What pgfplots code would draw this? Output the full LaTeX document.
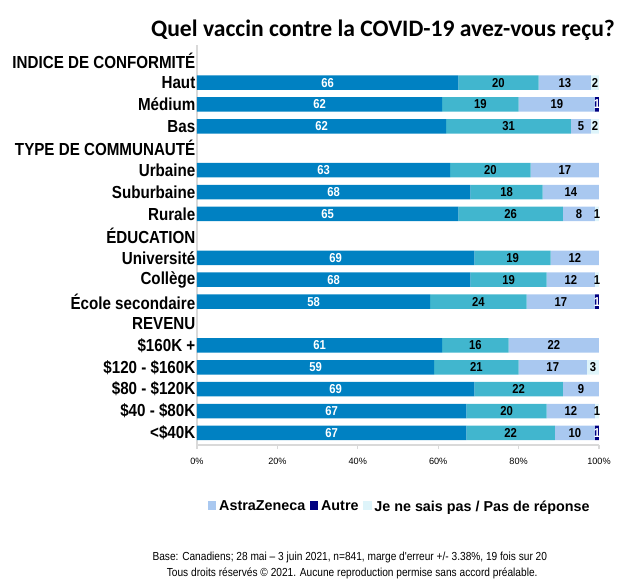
\documentclass[border=0pt]{standalone}
\usepackage{pgfplots}
\usepackage{pgfplotstable}
\pgfplotsset{compat=1.18}
\usepackage{fontspec}
\setmainfont{Liberation Sans}
\newfontfamily\narrow[FakeStretch=0.87]{Liberation Sans}
\newfontfamily\calib{Carlito}

\definecolor{pfz}{RGB}{0,129,194}
\definecolor{mod}{RGB}{65,182,206}
\definecolor{astra}{RGB}{169,200,240}
\definecolor{autre}{RGB}{0,0,128}
\definecolor{nsp}{RGB}{222,244,250}
\definecolor{axgray}{RGB}{217,217,217}

% widths (pf, mo, az, au, ns) and printed labels (..l)
\pgfplotstableread{
y pf pfl mo mol az azl au aul ns nsl
0 0 0 0 0 0 0 0 0 0 0
1 65 66 20 20 13 13 0 0 2 2
2 61 62 19 19 19 19 1 1 0 0
3 62 62 31 31 5 5 0 0 2 2
4 0 0 0 0 0 0 0 0 0 0
5 63 63 20 20 17 17 0 0 0 0
6 68 68 18 18 14 14 0 0 0 0
7 65 65 26 26 8 8 0 0 1 1
8 0 0 0 0 0 0 0 0 0 0
9 69 69 19 19 12 12 0 0 0 0
10 68 68 19 19 12 12 0 0 1 1
11 58 58 24 24 17 17 1 1 0 0
12 0 0 0 0 0 0 0 0 0 0
13 61 61 16.5 16 22.5 22 0 0 0 0
14 59 59 21 21 17 17 0 0 3 3
15 69 69 22 22 9 9 0 0 0 0
16 67 67 20 20 12 12 0 0 1 1
17 67 67 22 22 10 10 1 1 0 0
}\datatable

\begin{document}
\begin{tikzpicture}
\path[use as bounding box] (-4.925,-3.45) rectangle (10.9,11.125);
\begin{axis}[
  at={(0,0)}, anchor=south west,
  xbar stacked,
  x=0.1005cm, y=0.5475cm,
  y dir=reverse,
  xmin=0, xmax=100,
  ymin=-0.7, ymax=17.55,
  bar width=0.3625cm,
  axis x line*=bottom, axis y line*=left,
  axis line style={axgray, line width=1pt},
  xtick={0,20,...,100},
  xticklabel={\pgfmathprintnumber{\tick}\%},
  xtick style={axgray, line width=0.8pt},
  tick align=outside,
  major tick length=3pt,
  xticklabel style={font=\fontsize{6.5}{8}\selectfont, yshift=-2.5pt},
  /pgf/number format/assume math mode=true,
  ytick={0,...,17},
  yticklabels={INDICE DE CONFORMITÉ, Haut, Médium, Bas, TYPE DE COMMUNAUTÉ, Urbaine, Suburbaine, Rurale, ÉDUCATION, Université, Collège, École secondaire, REVENU, \$160K +, \$120 - \$160K, \$80 - \$120K, \$40 - \$80K, <\$40K},
  yticklabel style={font=\narrow\bfseries\fontsize{12.4}{14}\selectfont, inner xsep=1pt, xshift=3pt},
  ytick style={draw=none},
  nodes near coords={\ifdim\lab pt>0pt\pgfmathprintnumber{\lab}\fi},
  nodes near coords style={anchor=center, font=\narrow\bfseries\fontsize{9.2}{10}\selectfont},
  legend columns=-1,
  legend style={draw=none, fill=none, at={(0.505,-0.155)}, anchor=center,
    font=\bfseries\fontsize{10.2}{12}\selectfont,
    /tikz/every even column/.append style={column sep=1pt}},
  legend image code/.code={\fill[#1] (0cm,-0.07cm) rectangle (0.22cm,0.15cm);},
]
\addplot[fill=pfz, draw=none, nodes near coords style={white},
  visualization depends on={\thisrow{pfl} \as \lab}]
  table[x=pf, y=y] {\datatable};
\addplot[fill=mod, draw=none, nodes near coords style={black},
  visualization depends on={\thisrow{mol} \as \lab}]
  table[x=mo, y=y] {\datatable};
\addplot[fill=astra, draw=none, nodes near coords style={black},
  visualization depends on={\thisrow{azl} \as \lab}]
  table[x=az, y=y] {\datatable};
\addplot[fill=autre, draw=none, nodes near coords style={white},
  visualization depends on={\thisrow{aul} \as \lab}]
  table[x=au, y=y] {\datatable};
\addplot[fill=nsp, draw=none, nodes near coords style={black},
  visualization depends on={\thisrow{nsl} \as \lab}]
  table[x=ns, y=y] {\datatable};
\legend{,,AstraZeneca,Autre,Je ne sais pas / Pas de réponse}
\end{axis}
\node[font=\calib\bfseries\fontsize{16.8}{19}\selectfont] at (4.65,10.37) {Quel vaccin contre la COVID-19 avez-vous reçu?};
\node[font=\narrow\fontsize{8.3}{10}\selectfont] at (3.82,-2.8) {Base: Canadiens; 28 mai – 3 juin 2021, n=841, marge d'erreur +/- 3.38\%, 19 fois sur 20};
\node[font=\narrow\fontsize{8.3}{10}\selectfont] at (3.88,-3.2) {Tous droits réservés © 2021. Aucune reproduction permise sans accord préalable.};
\end{tikzpicture}
\end{document}
